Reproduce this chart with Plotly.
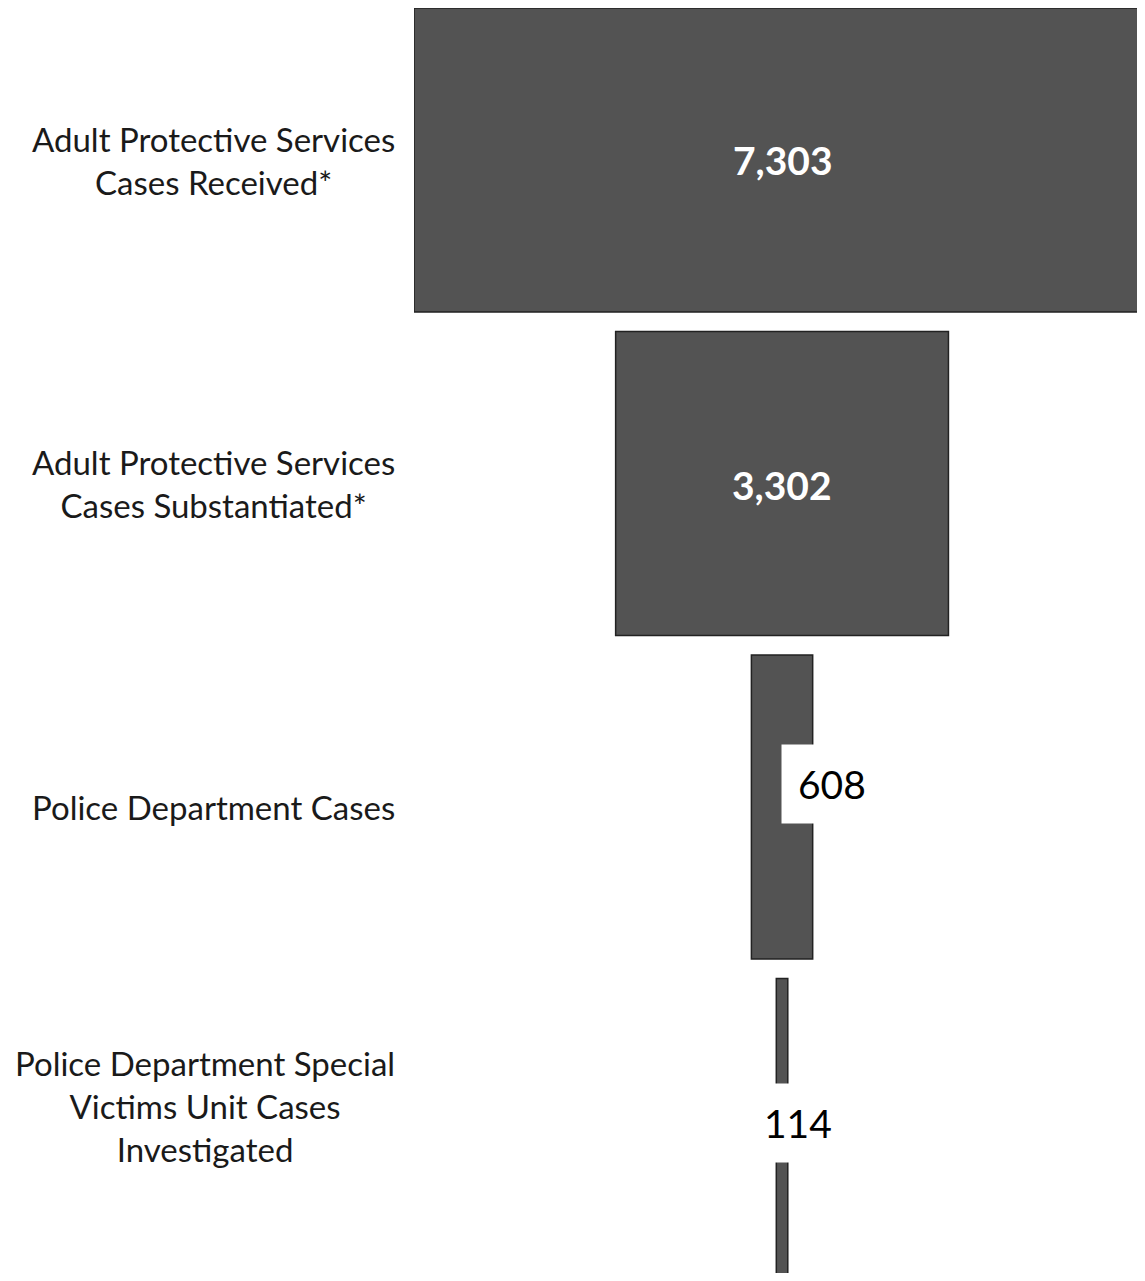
import plotly.graph_objects as go

stages = [
    "Adult Protective Services<br>Cases Received*",
    "Adult Protective Services<br>Cases Substantiated*",
    "Police Department Cases",
    "Police Department Special<br>Victims Unit Cases<br>Investigated",
]
cases = [7303, 3302, 608, 114]

BAR = "#535353"
FONT = "Lato"

fig = go.Figure(go.Funnel(
    y=list(range(len(stages))),
    x=cases,
    textinfo="none",
    marker=dict(color=BAR, line=dict(color="#222222", width=1.5)),
    connector=dict(visible=False),
    hoverinfo="x",
))

annotations = []
# category labels on the left
label_shift = [0, 0, 0, 25]
for i, s in enumerate(stages):
    annotations.append(dict(
        x=0, xref="paper", y=i, yref="y", text=s, showarrow=False,
        xanchor="right", align="center", xshift=-17, yshift=label_shift[i],
        font=dict(family=FONT, size=33, color="#1a1a1a"),
    ))

# value labels
styles = [
    dict(font=dict(family=FONT, size=39, color="white", weight="bold"), xshift=1, yshift=0, bg=None),
    dict(font=dict(family=FONT, size=39, color="white", weight="bold"), xshift=0, yshift=-1, bg=None),
    dict(font=dict(family=FONT, size=39, color="black"), xshift=50, yshift=23, bg="white"),
    dict(font=dict(family=FONT, size=39, color="black"), xshift=16, yshift=8, bg="white"),
]
for i, v in enumerate(cases):
    st = styles[i]
    a = dict(x=0, xref="x", y=i, yref="y", text=f"{v:,}", showarrow=False,
             xanchor="center", yanchor="middle", font=st["font"],
             xshift=st["xshift"], yshift=st["yshift"])
    if st["bg"]:
        a.update(bgcolor=st["bg"], borderpad=16)
    annotations.append(a)

half = max(cases) / 2
fig.update_layout(
    width=1137, height=1265,
    margin=dict(l=406, r=0, t=0, b=0),
    paper_bgcolor="white", plot_bgcolor="white",
    funnelgap=0.06,
    showlegend=False,
    xaxis=dict(range=[-half, 3601], visible=False),
    yaxis=dict(range=[3.4405, -0.4699], visible=False),
    annotations=annotations,
)

fig.write_html("out.html")
